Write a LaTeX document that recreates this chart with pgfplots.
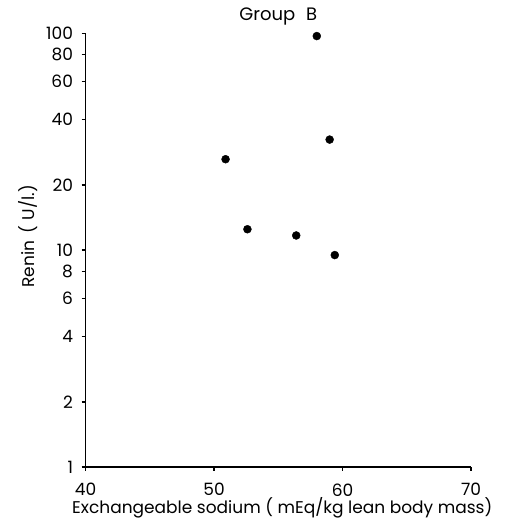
\documentclass[border=0pt]{standalone}
\usepackage{fontspec}
\setmainfont{Poppins}
\usepackage{pgfplots}
\pgfplotsset{compat=1.18}
\begin{document}
\begin{tikzpicture}
\path[use as bounding box] (0,0) rectangle (504pt,521pt);
\begin{axis}[
  at={(85.5pt,54pt)}, anchor=south west,
  scale only axis,
  width=385.5pt, height=433.5pt,
  xmin=40, xmax=70,
  ymode=log, ymin=1, ymax=100,
  axis x line*=bottom, axis y line*=left,
  axis line style={line width=1.8pt},
  xtick={40,50,60,70},
  ytick={1,2,4,6,8,10,20,40,60,80,100},
  yticklabels={1,2,4,6,8,10,20,40,60,80,100},
  minor ytick={},
  tick align=outside,
  major tick length=4pt,
  tick style={line width=1.5pt, black},
  /pgf/number format/assume math mode=true,
  tick label style={font=\fontsize{17}{18}\selectfont},
  xticklabel style={yshift=-9pt},
  yticklabel style={xshift=-5pt},
  label style={font=\fontsize{17}{19}\selectfont},
  xlabel={Exchangeable sodium ( mEq/kg lean body mass)},
  ylabel={Renin\hspace{0.45em}(\hspace{0.3em}U/l.)},
  xlabel style={yshift=5pt, xshift=4pt},
  ylabel style={at={(ticklabel cs:0.532)}, yshift=2pt},
  title={Group\hspace{0.6em}B},
  title style={font=\fontsize{18}{20}\selectfont, at={(0.5,1)}, anchor=south, yshift=-1pt},
  clip=false,
]
\addplot[only marks, mark=*, mark size=4pt, black] coordinates {
  (58.0,97.3) (59.0,32.4) (50.9,26.3) (52.6,12.5) (56.4,11.7) (59.4,9.5)
};
\end{axis}
\end{tikzpicture}
\end{document}
